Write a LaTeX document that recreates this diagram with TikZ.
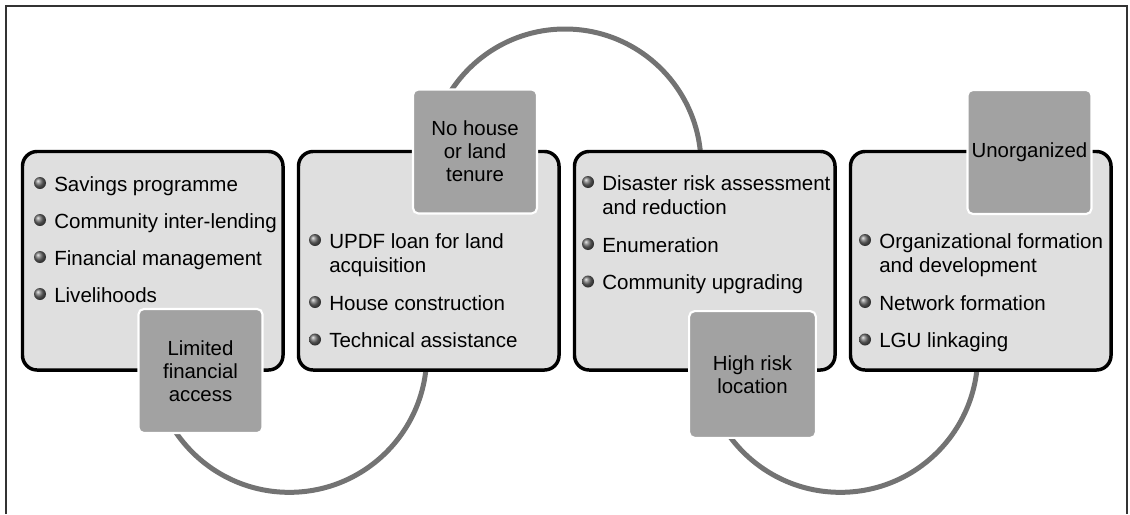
\documentclass[tikz,border=0pt]{standalone}
\usepackage{fontspec}
\setmainfont{Liberation Sans}
\definecolor{boxfill}{gray}{0.875}
\definecolor{keyfill}{gray}{0.635}
\definecolor{ringcol}{gray}{0.45}
\definecolor{framecol}{gray}{0.2}
\definecolor{dotcol}{gray}{0.42}
\tikzset{
 bigbox/.style={draw=black, line width=2.6pt, fill=boxfill, rounded corners=11pt, minimum width=195.4pt, minimum height=163.9pt, inner sep=0pt},
 keybox/.style={draw=white, line width=1.6pt, fill=keyfill, rounded corners=4pt, minimum width=93pt, minimum height=93pt, inner sep=0pt, align=center, font=\fontsize{15.3}{17.3}\selectfont},
 ring/.style={draw=ringcol, line width=3.75pt},
 itemtxt/.style={anchor=base west, inner sep=0pt, font=\fontsize{15.4}{18.4}\selectfont},
 bulletdot/.style={circle, inner sep=0pt, minimum size=9pt, shading=ball, ball color=dotcol},
 framel/.style={draw=framecol, line width=1pt},
}
\newcommand\bitem[4]{%
 \node[bulletdot] (#1b) at (#2-14,#3-8) {};
 \node[itemtxt] (#1) at (#2,#3) {#4};}
\newcommand\cont[4]{\node[itemtxt] (#1) at (#2,#3) {#4};}
\begin{document}
\begin{tikzpicture}[x=0.75pt,y=-0.75pt]
\useasboundingbox (0,0) rectangle (1130,514);
% frame
\coordinate (fbl) at (6,514);
\coordinate (ftl) at (6,6);
\coordinate (ftr) at (1127,6);
\coordinate (fbr) at (1127,514);
\draw[framel] (fbl) -- (ftl) -- (ftr) -- (fbr);
% rings
\coordinate (r1) at (152,355);
\coordinate (r2) at (429,165);
\coordinate (r3) at (703,355);
\draw[ring] (r1) arc[start angle=180, end angle=360, radius=103pt];
\draw[ring] (r2) arc[start angle=180, end angle=0, radius=102pt];
\draw[ring] (r3) arc[start angle=180, end angle=360, radius=103pt];
% big boxes
\node[bigbox] (b1) at (152.75,260.75) {};
\node[bigbox] (b2) at (428.75,260.75) {};
\node[bigbox] (b3) at (704.75,260.75) {};
\node[bigbox] (b4) at (980.75,260.75) {};
% box 1 items
\bitem{i11}{54}{191}{Savings programme}
\bitem{i12}{54}{228}{Community inter-lending}
\bitem{i13}{54}{265}{Financial management}
\bitem{i14}{54}{302}{Livelihoods}
% box 2 items
\bitem{i21}{329}{248}{UPDF loan for land}
\cont{i21c}{329}{272.5}{acquisition}
\bitem{i22}{329}{310}{House construction}
\bitem{i23}{329}{347.5}{Technical assistance}
% box 3 items
\bitem{i31}{602}{190}{Disaster risk assessment}
\cont{i31c}{602}{214.5}{and reduction}
\bitem{i32}{602}{252}{Enumeration}
\bitem{i33}{602}{289.5}{Community upgrading}
% box 4 items
\bitem{i41}{879}{248}{Organizational formation}
\cont{i41c}{879}{272.5}{and development}
\bitem{i42}{879}{310}{Network formation}
\bitem{i43}{879}{347.5}{LGU linkaging}
% key boxes
\node[keybox] (k1) at (200.5,371) {Limited\\financial\\access};
\node[keybox] (k2) at (475,151.5) {No house\\or land\\tenure};
\node[keybox, minimum width=95pt, minimum height=95pt] (k3) at (752.5,374.5) {High risk\\location};
\node[keybox] (k4) at (1029.5,152) {Unorganized};
\end{tikzpicture}
\end{document}
